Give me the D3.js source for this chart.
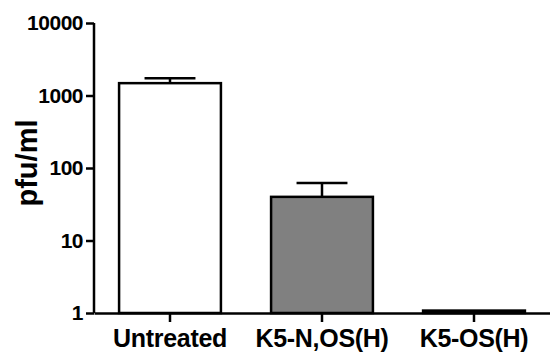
<!DOCTYPE html>
<html>
<head>
<meta charset="utf-8">
<script src="https://cdn.jsdelivr.net/npm/d3@7"></script>
<style>
  body { margin: 0; background: #fff; }
  text { font-family: "Liberation Sans", Arial, sans-serif; font-weight: bold; fill: #000; }
</style>
</head>
<body>
<svg id="chart" width="550" height="356"></svg>
<script>
// values
var categories = ['Untreated', 'K5-N,OS(H)', 'K5-OS(H)'];
var means = [1480, 40, 1.08];
var errTops = [1730, 62, null];
var fills = ['#ffffff', '#808080', '#ffffff'];
var yTicks = [1, 10, 100, 1000, 10000];

var svg = d3.select('#chart');
var plotL = 94, plotR = 550, plotT = 23, plotB = 313;

var y = d3.scaleLog()
          .domain([1, 10000])
          .range([plotB, plotT]);

var x = d3.scaleBand()
          .domain(categories)
          .range([plotL, plotR])
          .paddingInner(0.33)
          .paddingOuter(0.165);

// y axis
var yAxis = d3.axisLeft(y)
              .tickValues(yTicks)
              .tickFormat(d3.format('d'))
              .tickSize(8)
              .tickPadding(3);
var gy = svg.append('g')
            .attr('transform', 'translate(' + plotL + ',0)')
            .call(yAxis);
gy.select('.domain').attr('stroke-width', 2.5).attr('d', 'M0,' + plotT + 'V' + plotB);
gy.selectAll('.tick line').attr('stroke-width', 2.5);
gy.selectAll('.tick text').style('font-size', '21px').style('letter-spacing', '-0.5px');

// bars
svg.selectAll('rect.bar')
   .data(categories)
   .enter()
   .append('rect')
   .attr('class', 'bar')
   .attr('x', function(d) { return x(d); })
   .attr('width', x.bandwidth())
   .attr('y', function(d, i) { return y(means[i]); })
   .attr('height', function(d, i) { return plotB - y(means[i]); })
   .attr('fill', function(d, i) { return fills[i]; })
   .attr('stroke', '#000')
   .attr('stroke-width', 2.5);

// error bars (upper only)
var capW = x.bandwidth() * 0.5;
categories.forEach(function(c, i) {
    if (errTops[i] == null) return;
    var cx = x(c) + x.bandwidth() / 2;
    svg.append('line')
       .attr('x1', cx).attr('x2', cx)
       .attr('y1', y(means[i])).attr('y2', y(errTops[i]))
       .attr('stroke', '#000').attr('stroke-width', 2.5);
    svg.append('line')
       .attr('x1', cx - capW / 2).attr('x2', cx + capW / 2)
       .attr('y1', y(errTops[i])).attr('y2', y(errTops[i]))
       .attr('stroke', '#000').attr('stroke-width', 2.5);
});

// x axis
var xAxis = d3.axisBottom(x)
              .tickSize(9)
              .tickPadding(7)
              .tickSizeOuter(0);
var gx = svg.append('g')
            .attr('transform', 'translate(0,' + plotB + ')')
            .call(xAxis);
gx.select('.domain').attr('stroke-width', 2.5);
gx.selectAll('.tick line').attr('stroke-width', 2.5);
gx.selectAll('.tick text').style('font-size', '25px').style('letter-spacing', '-0.3px');

// y label
svg.append('text')
   .attr('transform', 'translate(37,163) rotate(-90)')
   .attr('text-anchor', 'middle')
   .style('font-size', '29px')
   .text('pfu/ml');
</script>
</body>
</html>
